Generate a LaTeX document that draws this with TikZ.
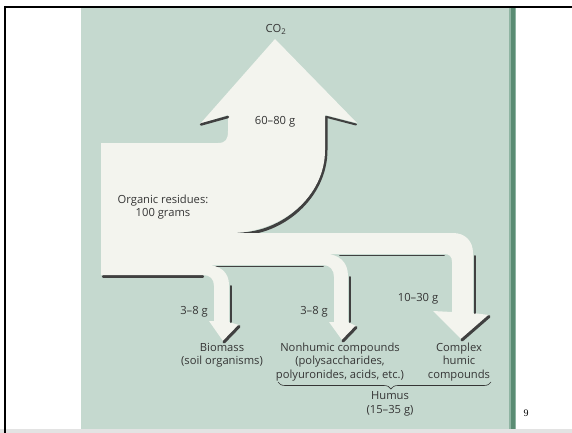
\documentclass[tikz,border=0pt]{standalone}
\usepackage{fontspec}
\newfontfamily\lab{Open Sans}
\newfontfamily\serifnum{Liberation Serif}
\usetikzlibrary{decorations.pathreplacing}
\definecolor{panel}{HTML}{C5D9CF}
\definecolor{flow}{HTML}{F3F4EE}
\definecolor{shade}{HTML}{404040}
\definecolor{ink}{HTML}{353535}
\definecolor{stripe}{HTML}{5A8C73}
\definecolor{stripelight}{HTML}{8FB4A2}
\begin{document}
\begin{tikzpicture}[x=1pt,y=-1pt,
  lbl/.style={font=\lab\fontsize{11.2}{13.5}\selectfont, text=ink, align=center, inner sep=0pt},
  shadowline/.style={draw=shade, line width=2pt, line cap=round},
  headshadow/.style={draw=shade, line width=3pt, line cap=round}]
\useasboundingbox (0,0) rectangle (572,433);
\fill[white] (0,0) rectangle (572,433);
\fill[panel] (81,8) rectangle (509,430);
\fill[stripelight] (509,8) rectangle (516,430);
\fill[stripe] (510.5,8) rectangle (514.5,430);
\fill[gray!22] (0,429) rectangle (572,433);
\draw[black, line width=2.2pt] (4,7) -- (572,7);
\draw[black, line width=2pt] (5,6) -- (5,433);

% shadows under the flow
\draw[shadowline, line width=1.6pt] (340,255.5) -- (444,255.5);
\draw[shadowline, line width=1.6pt] (205,266.5) -- (323,266.5);
\draw[shadowline, line width=2.2pt] (103,276.5) -- (203,276.5);
\draw[shadowline, line width=3pt] (326,117) -- (326,150)
  .. controls (326,196.5) and (283,234) .. (238,234);

% flow shape
\fill[flow] (101,143) -- (218,143)
  .. controls (226,143) and (228,139) .. (228,131)
  -- (228,115) -- (200,124) -- (275,39) -- (357,123) -- (325,115) -- (325,150)
  .. controls (325,196) and (282,233) .. (230,233)
  -- (453,233) .. controls (465,233) and (473,241) .. (473,253)
  -- (473,313) -- (489,315) -- (461,339) -- (433,311) -- (452,312)
  -- (452,262) .. controls (452,256) and (449,254) .. (444,254)
  -- (325,254) .. controls (339,254) and (348,262) .. (348,276)
  -- (348,322) -- (356,326) -- (342,340) -- (329,322) -- (334,322)
  -- (334,277) .. controls (334,270) and (330,265) .. (323,265)
  -- (206,265) .. controls (220,265) and (229,272) .. (229,285)
  -- (229,322) -- (239,325) -- (223,341) -- (209,321) -- (214,321)
  -- (214,286) .. controls (214,279) and (210,275) .. (203,275)
  -- (101,275) -- cycle;

% shadows on the flow edges
\draw[shadowline, line width=2.5pt] (201,124.5) -- (228,117);
\draw[shadowline] (356,124.5) -- (327,117);
\draw[shadowline] (475,256) -- (475,313);
\draw[headshadow] (489,316.5) -- (462,340);
\draw[shadowline] (349.8,277) -- (349.8,322);
\draw[headshadow] (356,327.5) -- (343,341);
\draw[shadowline] (230.8,286) -- (230.8,322);
\draw[headshadow] (239,326.5) -- (224,342);

% labels
\node[lbl] (co2) at (276,29) {CO\textsubscript{2}};
\node[lbl] (co2amt) at (275,122) {60–80 g};
\node[lbl] (org) at (163,207) {Organic residues:\\100 grams};
\node[lbl] (amt1) at (194,312) {3–8 g};
\node[lbl] (amt2) at (314,312) {3–8 g};
\node[lbl] (amt3) at (418,299) {10–30 g};
\node[lbl] (bio) at (222,355) {Biomass\\(soil organisms)};
\node[lbl] (nonh) at (340,362) {Nonhumic compounds\\(polysaccharides,\\polyuronides, acids, etc.)};
\node[lbl] (cplx) at (459,362) {Complex\\humic\\compounds};
\draw[ink, line width=0.6pt, decorate, decoration={brace, mirror, amplitude=7pt, aspect=0.53}]
  (278,382) -- (491,382);
\coordinate (bracetip) at (391,390);
\node[lbl] (humus) at (390,404) {Humus\\(15–35 g)};
\node[font=\serifnum\fontsize{10}{12}\selectfont, inner sep=0pt] (page) at (526,413) {9};
\end{tikzpicture}
\end{document}
